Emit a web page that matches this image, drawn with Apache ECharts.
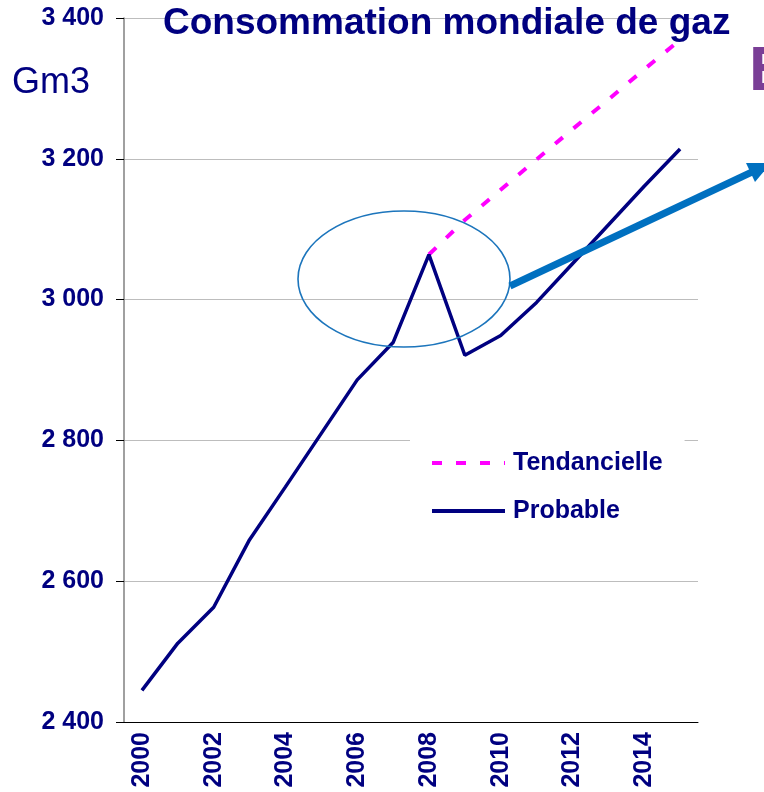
<!DOCTYPE html>
<html>
<head>
<meta charset="utf-8">
<title>Consommation mondiale de gaz</title>
<script src="https://cdn.jsdelivr.net/npm/echarts@6/dist/echarts.min.js"></script>
<style>
  html, body { margin: 0; padding: 0; background: #fff; }
  #main { width: 764px; height: 792px; }
</style>
</head>
<body>
<div id="main"></div>
<script>
// données (Gm3)
const years = ['2000', '2001', '2002', '2003', '2004', '2005', '2006', '2007',
  '2008', '2009', '2010', '2011', '2012', '2013', '2014', '2015'];
const probable = [2445, 2512, 2563, 2659, 2734, 2810, 2886, 2939,
  3064, 2921, 2949, 2996, 3051, 3106, 3161, 3214];
const tendancielle = [null, null, null, null, null, null, null, null,
  3064, 3113, 3156, 3199, 3242, 3284, 3327, 3369];

const navy = '#000080';
const magenta = '#ff00ff';
const font = 'Liberation Sans, Arial, sans-serif';

const chart = echarts.init(document.getElementById('main'));

// espace comme séparateur de milliers : 3 400
function fmt(v) {
  return String(v).replace(/\B(?=(\d{3})+(?!\d))/g, ' ');
}

const option = {
  animation: false,
  textStyle: { fontFamily: font },
  title: [
    {
      text: 'Consommation mondiale de gaz',
      left: 163,
      top: 5,
      padding: 0,
      textStyle: { color: navy, fontSize: 37, fontWeight: 'bold', fontFamily: font }
    },
    {
      text: 'Gm3',
      left: 12,
      top: 65,
      padding: 0,
      textStyle: { color: navy, fontSize: 36, fontWeight: 'normal', fontFamily: font }
    }
  ],
  legend: {
    orient: 'vertical',
    left: 410,
    top: 439,
    padding: [10, 22, 10, 20],
    backgroundColor: '#fff',
    itemWidth: 73,
    itemHeight: 20,
    itemGap: 20,
    itemStyle: { opacity: 0 },
    data: [
      { name: 'Tendancielle', lineStyle: { color: magenta, width: 4, type: [10, 14] } },
      { name: 'Probable', lineStyle: { color: navy, width: 4 } }
    ],
    textStyle: {
      color: navy, fontSize: 25, fontWeight: 'bold', fontFamily: font,
      lineHeight: 28, padding: [0, 0, 0, 3]
    }
  },
  grid: { left: 124, right: 66, top: 18, bottom: 70, containLabel: false },
  xAxis: {
    type: 'category',
    data: years,
    boundaryGap: true,
    axisLine: { lineStyle: { color: '#000', width: 1 } },
    axisTick: { interval: 0, length: 8, lineStyle: { color: '#404040' } },
    axisLabel: {
      interval: 1,
      rotate: 90,
      margin: 10,
      color: navy,
      fontSize: 25,
      fontWeight: 'bold',
      fontFamily: font
    },
    splitLine: { show: false }
  },
  yAxis: {
    type: 'value',
    min: 2400,
    max: 3400,
    interval: 200,
    axisLine: { show: true, lineStyle: { color: '#808080', width: 1.5 } },
    axisTick: { show: true, length: 8, lineStyle: { color: '#000' } },
    axisLabel: {
      margin: 20,
      color: navy,
      fontSize: 25,
      fontWeight: 'bold',
      fontFamily: font,
      formatter: fmt
    },
    splitLine: { show: true, lineStyle: { color: '#bdbdbd', width: 1 } }
  },
  series: [
    {
      name: 'Tendancielle',
      type: 'line',
      data: tendancielle,
      symbol: 'none',
      z: 2,
      lineStyle: { color: magenta, width: 4, type: [10, 14] },
      itemStyle: { color: magenta }
    },
    {
      name: 'Probable',
      type: 'line',
      data: probable,
      symbol: 'none',
      z: 3,
      lineStyle: { color: navy, width: 3.5 },
      itemStyle: { color: navy }
    }
  ],
  graphic: [
    // ellipse autour du pic de 2008
    {
      type: 'ellipse',
      shape: { cx: 404, cy: 279, rx: 106, ry: 68 },
      style: { fill: 'none', stroke: '#1c75bc', lineWidth: 1.6 },
      z: 10
    },
    // flèche bleue
    {
      type: 'line',
      shape: { x1: 510, y1: 286, x2: 752, y2: 172 },
      style: { stroke: '#0070c0', lineWidth: 7 },
      z: 10
    },
    {
      type: 'polygon',
      shape: { points: [[771, 163], [746, 163], [755, 182]] },
      style: { fill: '#0070c0' },
      z: 10
    },
    // lettre coupée au bord droit
    {
      type: 'text',
      left: 749,
      top: 41,
      style: {
        text: 'E',
        fill: '#7a3e96',
        font: 'bold 63px Liberation Sans, Arial, sans-serif'
      },
      z: 10
    }
  ]
};

chart.setOption(option);
</script>
</body>
</html>
